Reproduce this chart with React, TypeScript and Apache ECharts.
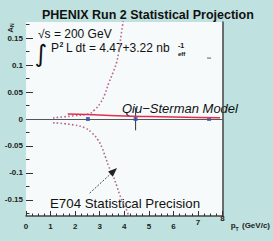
import React, { useEffect, useRef } from "react";
import * as echarts from "echarts";

const FONT = "'Liberation Sans', Arial, Helvetica, sans-serif";

// E704 statistical precision band (upper / lower), pT in GeV/c vs A_N
const upperPT = [1.1, 1.94, 2.52, 2.79, 3.03, 3.2, 3.37, 3.54, 3.68, 3.76, 3.82, 3.87, 3.92, 3.97];
const upperAN = [0.002, 0.006, 0.009, 0.017, 0.03, 0.045, 0.067, 0.086, 0.104, 0.121, 0.138, 0.156, 0.171, 0.185];
const lowerPT = [1.1, 1.94, 2.42, 2.69, 2.93, 3.1, 3.22, 3.36, 3.54, 3.7, 3.81, 3.95, 4.12, 4.2];
const lowerAN = [-0.007, -0.011, -0.017, -0.026, -0.039, -0.054, -0.069, -0.087, -0.105, -0.125, -0.14, -0.155, -0.172, -0.185];

// Qiu-Sterman model curve
const modelPT = [1.7, 2.5, 3.0, 4.0, 5.0, 6.0, 7.0, 7.9];
const modelAN = [0.0095, 0.0085, 0.0075, 0.0055, 0.0045, 0.0037, 0.003, 0.0022];

// PHENIX projected points
const pointPT = [2.52, 4.46, 7.45];
const pointAN = [0, 0, 0];
const pointErr = [0.003, 0.021, 0];

// stray marker
const markPT = [7.45];
const markAN = [0.113];

// arrow annotation (from, to)
const arrowFrom = [2.59, -0.1376];
const arrowTo = [3.57, -0.0967];

// axis ticks
const yMajor = [-0.15, -0.1, -0.05, 0, 0.05, 0.1, 0.15];
const yMinor = [-0.175, -0.125, -0.075, -0.025, 0.025, 0.075, 0.125, 0.175];
const xMin = 0;
const xMax = 8;
const yMin = -0.18;
const yMax = 0.18;

export default function App() {
  const ref = useRef<HTMLDivElement>(null);
  useEffect(() => {
    if (!ref.current) return;
    const chart = echarts.init(ref.current, null, { renderer: "svg" });
    const zip = (a: number[], b: number[]) => a.map((v, i) => [v, b[i]]);
    chart.setOption({
      animation: false,
      backgroundColor: "#bfe1df",
      title: {
        text: "PHENIX Run 2 Statistical Projection",
        left: 37,
        top: 3,
        textStyle: { fontFamily: FONT, fontSize: 12.5, fontWeight: "bold", color: "#111" },
      },
      grid: {
        left: 26,
        right: 12,
        top: 22,
        bottom: 25,
        show: true,
        backgroundColor: "#f6fafa",
        borderWidth: 0,
      },
      xAxis: {
        type: "value",
        min: xMin,
        max: xMax,
        interval: 1,
        axisLine: { show: true, onZero: false, lineStyle: { color: "#444", width: 1.5 } },
        axisTick: { show: true, inside: true, length: 5, lineStyle: { color: "#333" } },
        minorTick: { show: true, splitNumber: 4, length: 2.5, lineStyle: { color: "#333" } },
        splitLine: { show: false },
        axisLabel: {
          margin: -2,
          fontFamily: FONT,
          fontSize: 8,
          fontWeight: "bold",
          color: "#222",
          formatter: (v: number) => (v === 8 ? `{e|${v}}` : v === 7 ? `{s|${v}}` : `{n|${v}}`),
          rich: {
            n: { padding: [8, 0, 0, 0], fontFamily: FONT, fontSize: 8, fontWeight: "bold", color: "#222" },
            s: { padding: [4, 0, 0, 0], fontFamily: FONT, fontSize: 8, fontWeight: "bold", color: "#222" },
            e: { padding: [0, 0, 0, 0], fontFamily: FONT, fontSize: 8, fontWeight: "bold", color: "#222" },
          },
        },
        name: "{p|p}{t|T} {g|(GeV/c)}",
        nameLocation: "end",
        nameGap: -2,
        nameTextStyle: {
          align: "right",
          verticalAlign: "top",
          padding: [3, 0, 0, 0],
          rich: {
            p: { fontFamily: FONT, fontSize: 8, fontWeight: "bold", color: "#222" },
            t: { fontFamily: FONT, fontSize: 5, fontWeight: "bold", color: "#222", verticalAlign: "bottom" },
            g: { fontFamily: FONT, fontSize: 8, fontWeight: "bold", color: "#222" },
          },
        },
      },
      yAxis: [
        {
          type: "value",
          min: yMin,
          max: yMax,
          position: "left",
          axisLine: { show: false },
          axisTick: { show: true, inside: true, length: 7, customValues: yMajor, lineStyle: { color: "#333" } },
          splitLine: { show: false },
          axisLabel: {
            customValues: yMajor,
            margin: 3,
            fontFamily: FONT,
            fontSize: 8,
            fontWeight: "bold",
            color: "#222",
          },
        },
        {
          type: "value",
          min: yMin,
          max: yMax,
          position: "left",
          axisLine: { show: false },
          axisTick: { show: true, inside: true, length: 3.5, customValues: yMinor, lineStyle: { color: "#333" } },
          splitLine: { show: false },
          axisLabel: { show: false },
        },
        {
          type: "value",
          min: yMin,
          max: yMax,
          position: "right",
          axisLine: { show: true, lineStyle: { color: "#444", width: 1.5 } },
          axisTick: { show: false },
          splitLine: { show: false },
          axisLabel: { show: false },
        },
      ],
      graphic: [
        {
          type: "text",
          x: 38,
          y: 34,
          style: { text: "√s = 200 GeV", font: `12px ${FONT}`, fill: "#111", textVerticalAlign: "middle" },
        },
        {
          type: "text",
          x: 41,
          y: 54,
          style: { text: "∫", font: `24px 'DejaVu Sans'`, fill: "#111", textAlign: "center", textVerticalAlign: "middle" },
        },
        {
          type: "text",
          x: 51,
          y: 47.5,
          style: { text: "P", font: `12px ${FONT}`, fill: "#111", textVerticalAlign: "middle" },
        },
        {
          type: "text",
          x: 59.5,
          y: 44,
          style: { text: "2", font: `bold 7px ${FONT}`, fill: "#111", textVerticalAlign: "middle" },
        },
        {
          type: "text",
          x: 66,
          y: 47.5,
          style: { text: "L dt = 4.47+3.22 nb", font: `12px ${FONT}`, fill: "#111", textVerticalAlign: "middle" },
        },
        {
          type: "text",
          x: 178,
          y: 45,
          style: { text: "-1", font: `bold 7px ${FONT}`, fill: "#111", textVerticalAlign: "middle" },
        },
        {
          type: "text",
          x: 178,
          y: 54,
          style: { text: "eff", font: `bold 6px ${FONT}`, fill: "#111", textVerticalAlign: "middle" },
        },
        {
          type: "text",
          x: 122,
          y: 108,
          style: { text: "Qiu−Sterman Model", font: `italic 13px ${FONT}`, fill: "#111", textVerticalAlign: "middle" },
        },
        {
          type: "text",
          x: 50,
          y: 203,
          style: { text: "E704 Statistical Precision", font: `13.3px ${FONT}`, fill: "#111", textVerticalAlign: "middle" },
        },
        {
          type: "text",
          x: 10,
          y: 28,
          rotation: Math.PI / 2,
          style: {
            text: "{a|A}{n|N}",
            textAlign: "center",
            textVerticalAlign: "middle",
            rich: {
              a: { fontFamily: FONT, fontSize: 8, fontWeight: "bold", fill: "#222" },
              n: { fontFamily: FONT, fontSize: 5, fontWeight: "bold", fill: "#222", verticalAlign: "bottom" },
            },
          },
        },
      ],
      series: [
        {
          name: "E704 upper",
          type: "line",
          data: zip(upperPT, upperAN),
          smooth: true,
          symbol: "none",
          lineStyle: { color: "#b56a8c", width: 1.6, type: [1.6, 2.2] },
          markLine: {
            silent: true,
            symbol: ["none", "none"],
            label: { show: false },
            lineStyle: { color: "#555", width: 1, type: "solid" },
            data: [{ yAxis: 0 }],
          },
        },
        {
          name: "E704 lower",
          type: "line",
          data: zip(lowerPT, lowerAN),
          smooth: true,
          symbol: "none",
          lineStyle: { color: "#b56a8c", width: 1.6, type: [1.6, 2.2] },
          markLine: {
            silent: true,
            symbol: ["none", "triangle"],
            symbolSize: [7, 9],
            label: { show: false },
            lineStyle: { color: "#222", width: 0.8, type: [2, 1.5] },
            itemStyle: { color: "#111" },
            data: [[{ coord: arrowFrom }, { coord: arrowTo }]],
          },
        },
        {
          name: "Qiu-Sterman",
          type: "line",
          data: zip(modelPT, modelAN),
          smooth: true,
          symbol: "none",
          lineStyle: { color: "#e0304e", width: 1.5 },
        },
        {
          name: "errors",
          type: "custom",
          data: pointPT.map((x, i) => [x, pointAN[i], pointErr[i]]),
          encode: { x: 0, y: 1 },
          renderItem: (params: any, api: any) => {
            const x = api.value(0);
            const y = api.value(1);
            const e = api.value(2);
            const a = api.coord([x, y + e]);
            const b = api.coord([x, y - e]);
            return {
              type: "line",
              shape: { x1: a[0], y1: a[1], x2: b[0], y2: b[1] },
              style: { stroke: "#333", lineWidth: 1 },
            };
          },
        },
        {
          name: "PHENIX",
          type: "scatter",
          data: zip(pointPT, pointAN),
          symbol: "rect",
          symbolSize: 4,
          itemStyle: { color: "#3050e0" },
        },
        {
          name: "mark",
          type: "scatter",
          data: zip(markPT, markAN),
          symbol: "rect",
          symbolSize: [4, 1.5],
          itemStyle: { color: "#777" },
        },
      ],
    });
    return () => chart.dispose();
  }, []);
  return <div ref={ref} style={{ position: "fixed", left: 0, top: 0, width: 273, height: 241 }} />;
}
